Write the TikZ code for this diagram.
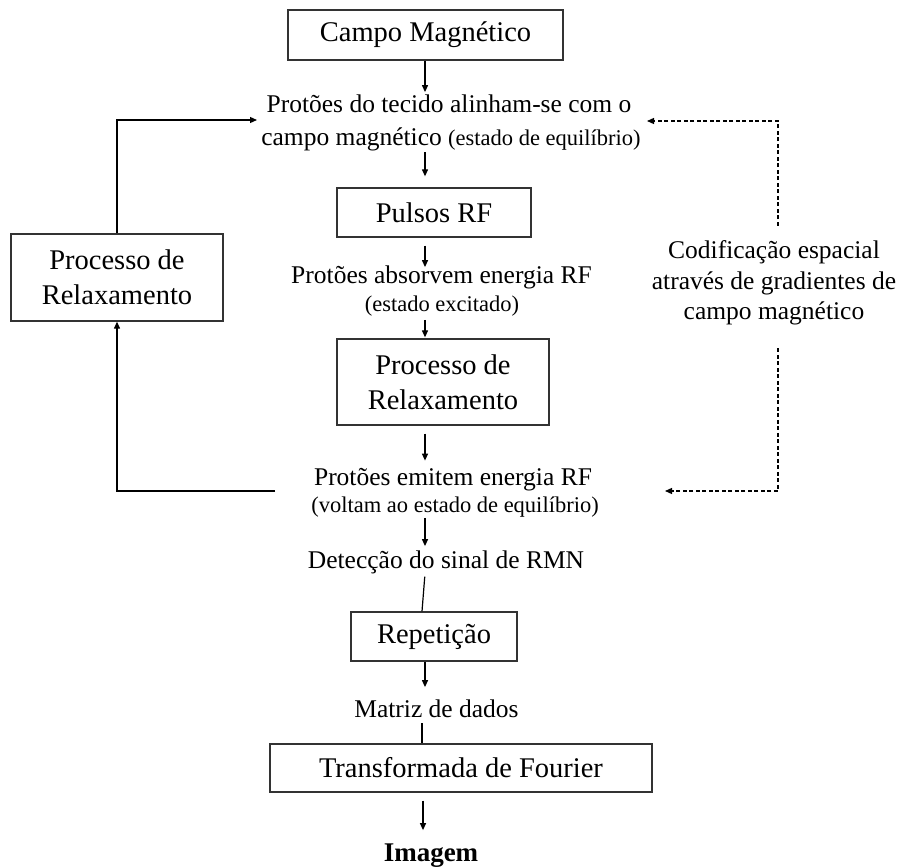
\documentclass[tikz,border=0pt]{standalone}
\usepackage{fontspec}
\setmainfont{Liberation Serif}
\usetikzlibrary{arrows.meta}
\begin{document}
\begin{tikzpicture}[x=1pt,y=-1pt,
  box/.style={draw=black!80,line width=1.3pt,inner sep=0pt,font=\fontsize{28.5}{35}\selectfont,align=center},
  txt/.style={inner sep=0pt,anchor=base,font=\fontsize{25.5}{31}\selectfont},
  partxt/.style={inner sep=0pt,anchor=base,font=\fontsize{22.5}{28}\selectfont},
  arr/.style={line width=1.2pt,-{Triangle[length=7pt,width=6pt]}},
  ln/.style={line width=1.2pt},
  darr/.style={line width=1.2pt,dash pattern=on 4pt off 2.5pt,-{Triangle[length=7pt,width=6pt]}}]
\useasboundingbox (0,0) rectangle (903,867);
\node[box,minimum width=275pt,minimum height=50pt] (cm) at (425.5,35) {Campo Magnético};
\node[txt] (t1a) at (449,113) {Protões do tecido alinham-se com o};
\node[txt] (t1b) at (451,146) {campo magnético {\fontsize{22.5}{28}\selectfont(estado de equilíbrio)}};
\node[box,minimum width=194pt,minimum height=49pt] (pr) at (434,212.5) {Pulsos RF};
\node[txt] (t2a) at (441.5,283) {Protões absorvem energia RF};
\node[partxt] (t2b) at (442,311) {(estado excitado)};
\node[box,minimum width=212pt,minimum height=86pt] (rel) at (443,382) {Processo de\\Relaxamento};
\node[txt] (t3a) at (453,485) {Protões emitem energia RF};
\node[partxt] (t3b) at (455,512) {(voltam ao estado de equilíbrio)};
\node[txt] (det) at (446,568) {Detecção do sinal de RMN};
\node[box,minimum width=166pt,minimum height=49pt] (rep) at (434,636.5) {Repetição};
\node[txt] (mat) at (436.5,717) {Matriz de dados};
\node[box,minimum width=382pt,minimum height=48pt] (tf) at (461,768) {Transformada de Fourier};
\node[txt,font=\fontsize{27}{31}\selectfont\bfseries] (img) at (431,861) {Imagem};
\node[box,minimum width=212pt,minimum height=87pt] (lr) at (117,277.5) {Processo de\\Relaxamento};
\node[inner sep=0pt,anchor=north,align=center,font=\fontsize{25.5}{30.5}\selectfont] (cod) at (774,240.5) {Codificação espacial\\através de gradientes de\\campo magnético};
\coordinate (ax) at (425,0);
\coordinate (c1) at (257,120);
\coordinate (c3) at (275,491);
\coordinate (c4) at (647,121);
\coordinate (c5) at (665,491);
\draw[arr,shorten >=3pt] (ax |- cm.south) -- (ax |- t1a.north);
\draw[arr,shorten <=0.5pt,shorten >=11pt] (ax |- t1b.south) -- (ax |- pr.north);
\draw[arr,shorten <=8pt,shorten >=-2pt] (ax |- pr.south) -- (ax |- t2a.north);
\draw[arr,shorten <=4pt,shorten >=1pt] (ax |- t2b.south) -- (ax |- rel.north);
\draw[arr,shorten <=8pt,shorten >=7pt] (ax |- rel.south) -- (ax |- t3a.north);
\draw[arr,shorten <=1pt,shorten >=4pt] (ax |- t3b.south) -- (ax |- det.north);
\draw[ln,shorten <=3pt] (ax |- det.south) -- ([xshift=-3pt]ax |- rep.north);
\draw[arr,shorten >=12pt] (ax |- rep.south) -- (ax |- mat.north);
\draw[ln,shorten <=6pt] ([xshift=-3pt]ax |- mat.south) -- ([xshift=-3pt]ax |- tf.north);
\draw[arr,shorten <=8pt,shorten >=13pt] ([xshift=-2pt]ax |- tf.south) -- ([xshift=-2pt]ax |- img.north);
\draw[arr] (lr.north) |- (c1);
\draw[arr] (c3) -| (lr.south);
\draw[darr,shorten <=15pt] ([xshift=4pt]cod.north) |- (c4);
\draw[darr,shorten <=23pt] ([xshift=4pt]cod.south) |- (c5);
\end{tikzpicture}
\end{document}
